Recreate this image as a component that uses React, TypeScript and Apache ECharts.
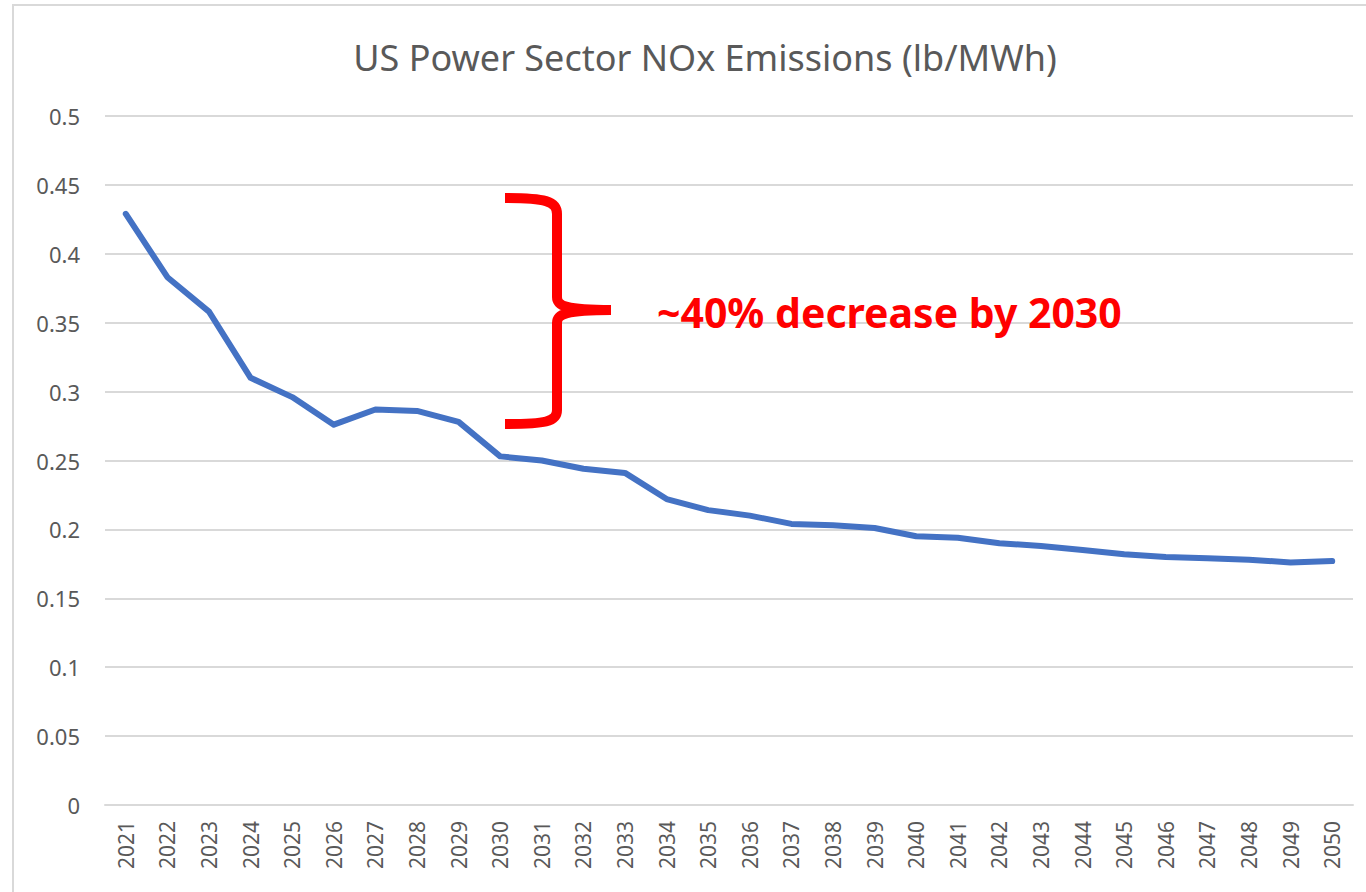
import React, { useEffect, useRef } from "react";
import * as echarts from "echarts";

const years = [
  "2021", "2022", "2023", "2024", "2025", "2026", "2027", "2028", "2029", "2030",
  "2031", "2032", "2033", "2034", "2035", "2036", "2037", "2038", "2039", "2040",
  "2041", "2042", "2043", "2044", "2045", "2046", "2047", "2048", "2049", "2050",
];
const noxEmissions = [
  0.429, 0.383, 0.358, 0.310, 0.296, 0.276, 0.287, 0.286, 0.278, 0.253,
  0.250, 0.244, 0.241, 0.222, 0.214, 0.210, 0.204, 0.203, 0.201, 0.195,
  0.194, 0.190, 0.188, 0.185, 0.182, 0.180, 0.179, 0.178, 0.176, 0.177,
];
const titleText = "US Power Sector NOx Emissions (lb/MWh)";
const annotationText = "~40% decrease by 2030";

const BRACE_D =
  "M 505 198 C 545 198 557 201 557 214 L 557 297 C 557 306 566 310 611 310 " +
  "M 611 310 C 566 310 557 314 557 323 L 557 410 C 557 422 545 424 505 424";

let braceRegistered = false;

export default function App() {
  const ref = useRef<HTMLDivElement>(null);

  useEffect(() => {
    if (!ref.current) return;
    if (!braceRegistered) {
      echarts.graphic.registerShape("brace", echarts.graphic.extendPath(BRACE_D, {}));
      braceRegistered = true;
    }
    const chart = echarts.init(ref.current, null, { renderer: "svg" });
    const font = "'Noto Sans', 'Open Sans', sans-serif";
    chart.setOption({
      animation: false,
      backgroundColor: "#ffffff",
      title: {
        text: titleText,
        left: 700,
        top: 34,
        textAlign: "center",
        textStyle: { fontFamily: font, fontSize: 36, fontWeight: "normal", color: "#595959" },
      },
      grid: { left: 105, right: 13, top: 116, bottom: 87, containLabel: false },
      xAxis: {
        type: "category",
        data: years,
        boundaryGap: true,
        axisLine: { show: true, lineStyle: { color: "#d9d9d9", width: 2 } },
        axisTick: { show: false },
        axisLabel: {
          rotate: 90,
          interval: 0,
          margin: 16,
          fontFamily: font,
          fontSize: 21,
          color: "#595959",
        },
      },
      yAxis: {
        type: "value",
        min: 0,
        max: 0.5,
        interval: 0.05,
        axisLine: { show: false },
        axisTick: { show: false },
        splitLine: { lineStyle: { color: "#d9d9d9", width: 2 } },
        axisLabel: {
          margin: 25,
          fontFamily: font,
          fontSize: 22,
          color: "#595959",
          formatter: (v: number) => String(parseFloat(v.toFixed(2))),
        },
      },
      series: [
        {
          type: "line",
          data: noxEmissions,
          symbol: "none",
          lineStyle: { color: "#4472c4", width: 6, cap: "round", join: "round" },
        },
      ],
      graphic: [
        {
          type: "rect",
          shape: { x: 13, y: 5, width: 1400, height: 1000 },
          style: { fill: "none", stroke: "#d9d9d9", lineWidth: 2 },
          silent: true,
          z: -1,
        },
        {
          type: "brace",
          x: 0,
          y: 0,
          style: { fill: "none", stroke: "#ff0000", lineWidth: 10 },
          z: 10,
        },
        {
          type: "text",
          x: 657,
          y: 312,
          style: {
            text: annotationText,
            fontFamily: font,
            fontSize: 41,
            fontWeight: "bold",
            fill: "#ff0000",
            verticalAlign: "middle",
          },
          z: 10,
        },
      ],
    });
    return () => chart.dispose();
  }, []);

  return (
    <div
      ref={ref}
      style={{ position: "fixed", left: 0, top: 0, width: 1366, height: 892 }}
    />
  );
}
